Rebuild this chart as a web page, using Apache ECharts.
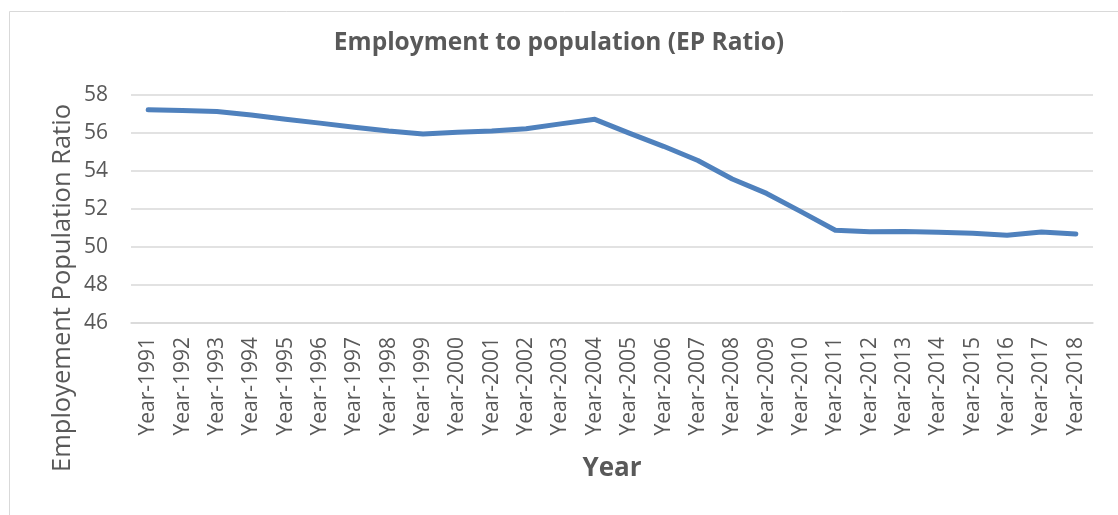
<!DOCTYPE html>
<html><head><meta charset="utf-8">
<script src="https://cdn.jsdelivr.net/npm/echarts@6/dist/echarts.min.js"></script>
<style>html,body{margin:0;padding:0;background:#fff}#c{width:1118px;height:515px}</style>
</head><body><div id="c"></div>
<script>
const categories = ['Year-1991','Year-1992','Year-1993','Year-1994','Year-1995','Year-1996','Year-1997','Year-1998','Year-1999','Year-2000','Year-2001','Year-2002','Year-2003','Year-2004','Year-2005','Year-2006','Year-2007','Year-2008','Year-2009','Year-2010','Year-2011','Year-2012','Year-2013','Year-2014','Year-2015','Year-2016','Year-2017','Year-2018'];
const epRatio = [57.22,57.18,57.13,56.95,56.72,56.52,56.3,56.1,55.95,56.04,56.1,56.22,56.48,56.72,55.99,55.3,54.55,53.58,52.82,51.86,50.88,50.8,50.82,50.77,50.72,50.62,50.79,50.68];
const yTicks = {min:46, max:58, interval:2};
const titleText = 'Employment to population (EP Ratio)';
const yName = 'Employement Population Ratio';
const xName = 'Year';

const chart = echarts.init(document.getElementById('c'));
chart.setOption({
  animation:false,
  title:{text:titleText, left:'center', top:26,
    textStyle:{fontFamily:'Open Sans', fontWeight:'bold', fontSize:24.5, color:'#595959'}},
  graphic:[
    {type:'rect', shape:{x:9.5,y:11.5,width:1120,height:520}, style:{fill:null, stroke:'#d9d9d9', lineWidth:1}, silent:true},
    {type:'text', x:63, y:288, rotation:Math.PI/2,
      style:{text:yName, fontFamily:'Open Sans', fontSize:25.5, fill:'#595959', textAlign:'center', textVerticalAlign:'middle'}}
  ],
  grid:{left:131, right:25, top:95, bottom:192},
  xAxis:{type:'category', data:categories, boundaryGap:true,
    name:xName, nameLocation:'middle', nameGap:133,
    nameTextStyle:{fontFamily:'Open Sans', fontWeight:'bold', fontSize:26, color:'#595959'},
    axisLine:{lineStyle:{color:'#d9d9d9', width:1.5}}, axisTick:{show:false},
    axisLabel:{rotate:90, interval:0, fontFamily:'Open Sans', fontSize:21, color:'#595959', margin:14}},
  yAxis:{type:'value', min:yTicks.min, max:yTicks.max, interval:yTicks.interval,
    axisLine:{show:false}, axisTick:{show:false},
    axisLabel:{fontFamily:'Open Sans', fontSize:21, color:'#595959', margin:23},
    splitLine:{lineStyle:{color:'#d9d9d9', width:1.5}}},
  series:[{type:'line', data:epRatio, symbol:'none', smooth:false,
    lineStyle:{color:'#4f81bd', width:5, cap:'round', join:'round'}}]
});
</script></body></html>
